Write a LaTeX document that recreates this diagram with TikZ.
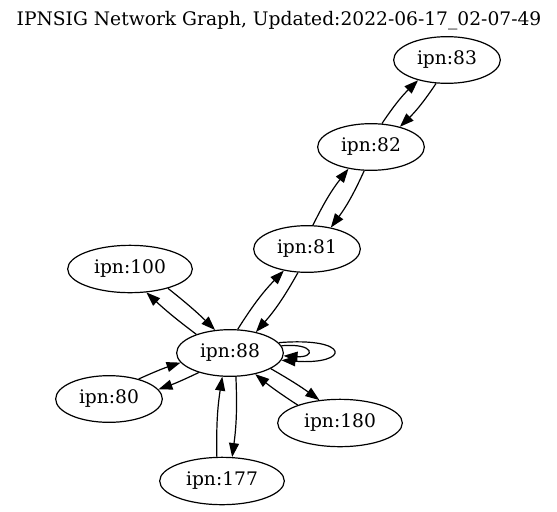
\documentclass[tikz,border=0pt]{standalone}
\usepackage{fontspec}
\setmainfont{DejaVu Serif}
\usetikzlibrary{arrows.meta,shapes.geometric}
\begin{document}
\begin{tikzpicture}[x=0.75pt,y=-0.75pt,
  gnode/.style={draw,ellipse,line width=0.9pt,inner sep=0pt,font=\fontsize{14}{16}\selectfont},
  shortnode/.style={gnode,minimum width=80pt,minimum height=35pt},
  longnode/.style={gnode,minimum width=93.5pt,minimum height=35.5pt},
  edge/.style={draw,line width=0.9pt,-{Triangle[length=10.5pt,width=7.5pt]}},
  titletext/.style={font=\fontsize{14}{16}\selectfont}
]
\useasboundingbox (0,0) rectangle (557,511);
\node[titletext] (title) at (279,21) {IPNSIG Network Graph, Updated:2022-06-17\_02-07-49};
\node[shortnode] (n83) at (447,60) {ipn:83};
\node[shortnode] (n82) at (371,147) {ipn:82};
\node[shortnode] (n81) at (307,249) {ipn:81};
\node[longnode] (n100) at (130,269) {ipn:100};
\node[shortnode] (n88) at (230,353) {ipn:88};
\node[shortnode] (n80) at (109,399) {ipn:80};
\node[longnode] (n180) at (340,423) {ipn:180};
\node[longnode] (n177) at (222,481) {ipn:177};

\draw[edge] (n82.65) to[bend left=6] (n83.215);
\draw[edge] (n83.245) to[bend left=6] (n82.35);
\draw[edge] (n81.76) to[bend left=6] (n82.224);
\draw[edge] (n82.254) to[bend left=6] (n81.42);
\draw[edge] (n88.72) to[bend left=6] (n81.223);
\draw[edge] (n81.249) to[bend left=6] (n88.39);
\draw[edge] (n100.333) to[bend left=3] (n88.123);
\draw[edge] (n88.151) to[bend left=3] (n100.305);
\draw[edge] (n80.34) to[bend left=3] (n88.191);
\draw[edge] (n88.212) to[bend left=3] (n80.11);
\draw[edge] (n88.339) to[bend left=3] (n180.132);
\draw[edge] (n180.157) to[bend left=3] (n88.320);
\draw[edge] (n177.102) to[bend left=5] (n88.252);
\draw[edge] (n88.284) to[bend left=5] (n177.67);
\draw[edge] (n88.12) .. controls +(73,-6) and +(69,5) .. (n88.-8);
\draw[edge] (n88.8) .. controls +(34,-3) and +(32,2) .. (n88.-3);
\end{tikzpicture}
\end{document}
